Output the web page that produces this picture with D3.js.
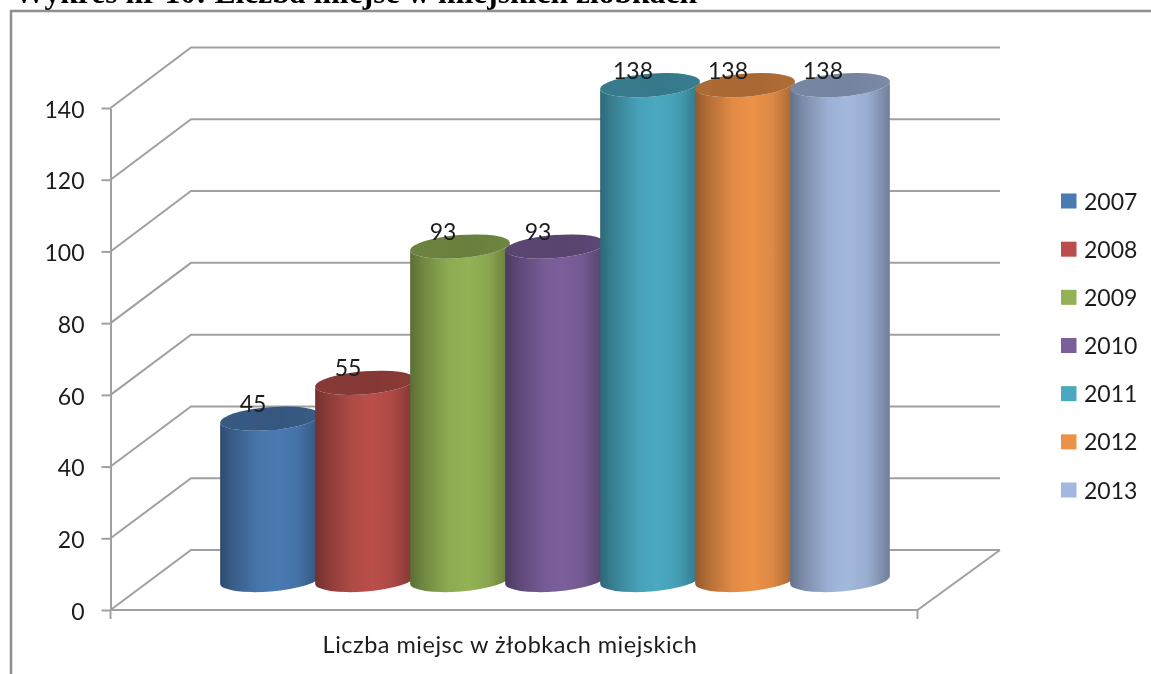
<!DOCTYPE html>
<html><head><meta charset="utf-8">
<script src="https://cdn.jsdelivr.net/npm/d3@7/dist/d3.min.js"></script>
<style>
html,body{margin:0;padding:0;background:#fff;overflow:hidden}
svg{display:block;filter:blur(0.45px)}
text{font-family:Lato,"Open Sans",sans-serif;fill:#1c1c1c}
</style></head><body>
<svg id="c" width="1151" height="674"></svg>
<script>
const years = ["2007","2008","2009","2010","2011","2012","2013"];
const values = [45,55,93,93,138,138,138];
const colors = ["#4a7ab2","#b94e4a","#93b255","#7b5f9b","#4aa8c0","#ec9148","#a3b8de"];
const yTicks = [0,20,40,60,80,100,120,140];
const categoryLabel = "Liczba miejsc w żłobkach miejskich";
const titleText = "Wykres nr 10: Liczba miejsc w miejskich żłobkach";

const svg = d3.select("#c");
const W = 1151, H = 674;
const gridCol = "#a0a0a0";

const yFront = d3.scaleLinear().domain([0,140]).range([610,108]);
const yBack  = d3.scaleLinear().domain([0,140]).range([550,47.5]);
const yMid   = d3.scaleLinear().domain([0,140]).range([580,78]);
const x = d3.scaleBand().domain(years).range([220,885]).padding(0);

const xFront = 110.5, xBack = 191, xWall = 1000, xFloor = 917.5;

const defs = svg.append("defs");

svg.append("rect").attr("width",W).attr("height",H).attr("fill","#fff");

// page title, cut by the top of the picture
svg.append("text").text(titleText).attr("x",14).attr("y",3)
  .style("font-family","'Liberation Serif',serif").style("font-weight","700")
  .style("font-size","31.6px").style("fill","#000");

// chart frame
svg.append("path").attr("d",`M11,${H} V11 H${W}`).attr("fill","none")
  .attr("stroke","#8f8f8f").attr("stroke-width",2.5);

// wall gridlines
const grid = svg.append("g").attr("fill","none").attr("stroke",gridCol).attr("stroke-width",2);
grid.selectAll("path.g").data(yTicks).join("path").attr("class","g")
  .attr("d",d=>`M${xFront},${yFront(d)} L${xBack},${yBack(d)} H${xWall}`);
// floor
grid.append("path")
  .attr("d",`M${xWall},${yBack(0)} L${xFloor},${yFront(0)} H${xFront}`);
// axis line and ticks
const axis = d3.axisLeft(yFront).tickValues(yTicks).tickSize(9).tickPadding(17).tickSizeOuter(0);
const ag = svg.append("g").attr("transform",`translate(${xFront},0)`).call(axis);
ag.select(".domain").attr("stroke",gridCol).attr("stroke-width",2);
ag.selectAll(".tick line").attr("stroke",gridCol).attr("stroke-width",2);
ag.selectAll(".tick text").style("font-family","Lato").style("font-size","23px").style("fill","#1c1c1c")
  .attr("dy","0.4em");
grid.selectAll("path.t").data([xFront,xFloor]).join("path").attr("class","t")
  .attr("d",d=>`M${d},${yFront(0)} v9`);

// category label
svg.append("text").text(categoryLabel).attr("x",510).attr("y",653)
  .attr("text-anchor","middle").style("font-size","23.5px").style("letter-spacing","0.5px");

// cylinders
const rx = 50, ry = 11.5, tilt = -4.6;
const dx = rx*Math.cos(tilt*Math.PI/180), dy = -rx*Math.sin(tilt*Math.PI/180);
years.forEach((yr,i)=>{
  const c = d3.color(colors[i]);
  const g = defs.append("linearGradient").attr("id","g"+i);
  [[0,c.darker(1.35)],[.12,c.darker(.8)],[.38,c.darker(.12)],[.58,c],[.78,c.darker(.18)],[1,c.darker(1.05)]]
    .forEach(([o,k])=>g.append("stop").attr("offset",o).attr("stop-color",k));
  const t = defs.append("linearGradient").attr("id","t"+i);
  [[0,c.darker(.85)],[.6,c.darker(.95)],[1,c.darker(.8)]]
    .forEach(([o,k])=>t.append("stop").attr("offset",o).attr("stop-color",k));
});
const bars = svg.append("g").selectAll("g").data(years.map((y,i)=>({y,v:values[i],i}))).join("g");
const cx = d=>x(d.y)+rx;
bars.append("path").attr("fill",d=>`url(#g${d.i})`)
  .attr("d",d=>{
    const X=cx(d), T=yMid(d.v), B=yMid(0);
    return `M${X-dx},${T+dy} L${X-dx},${B+dy} A${rx},${ry} ${tilt} 0 0 ${X+dx},${B-dy} L${X+dx},${T-dy} A${rx},${ry} ${tilt} 0 1 ${X-dx},${T+dy} Z`;
  });
bars.append("ellipse").attr("fill",d=>`url(#t${d.i})`)
  .attr("cx",cx).attr("cy",d=>yMid(d.v)).attr("rx",rx).attr("ry",ry)
  .attr("transform",d=>`rotate(${tilt} ${cx(d)} ${yMid(d.v)})`);

// value labels
svg.append("g").selectAll("text").data(years.map((y,i)=>({y,v:values[i]}))).join("text")
  .text(d=>d.v).attr("text-anchor","middle")
  .attr("x",d=>x(d.y)+33).attr("y",d=>yMid(d.v)-6.5).style("font-size","23px");

// legend
const ly = d3.scalePoint().domain(years).range([201,490]);
const lg = svg.append("g").selectAll("g").data(years.map((y,i)=>({y,i}))).join("g")
  .attr("transform",d=>`translate(1061,${ly(d.y)})`);
lg.append("rect").attr("x",0).attr("y",-7.5).attr("width",15.5).attr("height",15).attr("fill",d=>colors[d.i]);
lg.append("text").text(d=>d.y).attr("x",23).attr("y",8.5).style("font-size","23px");
</script>
</body></html>
